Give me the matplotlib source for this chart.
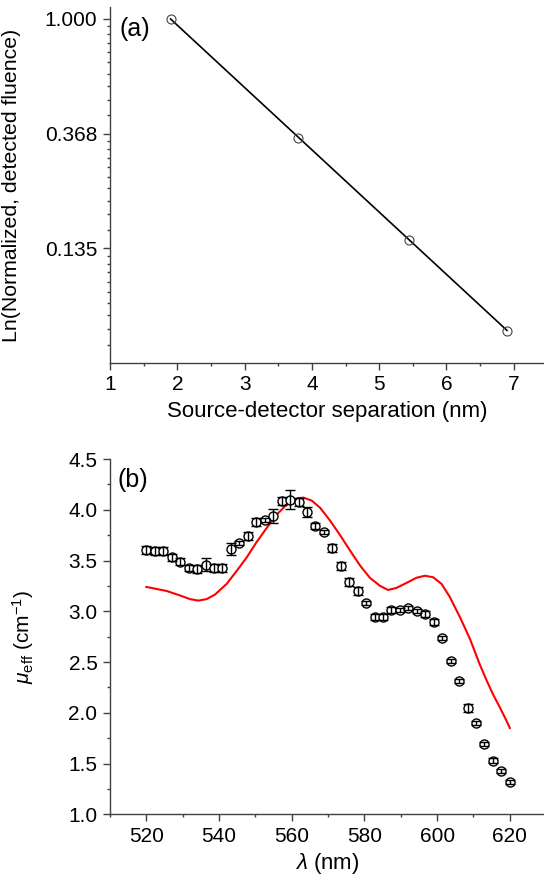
import numpy as np
import matplotlib
matplotlib.use("Agg")
from matplotlib import pyplot as plt
from matplotlib.ticker import FixedLocator, FixedFormatter, MultipleLocator, FormatStrFormatter

plt.rcParams['font.family'] = ['Liberation Sans', 'DejaVu Sans']
plt.rcParams['mathtext.fontset'] = 'custom'
plt.rcParams['mathtext.rm'] = 'Liberation Sans'
plt.rcParams['mathtext.it'] = 'Liberation Sans:italic'
plt.rcParams['mathtext.bf'] = 'Liberation Sans:bold'

# panel (a): normalized detected fluence vs source-detector separation
separation = [1.9, 3.8, 5.45, 6.9]
fluence = [1.0, 0.355, 0.146, 0.066]
fluence_ticks = [1.0, np.exp(-1), np.exp(-2)]
fluence_labels = ['1.000', '0.368', '0.135']

# panel (b): measured mu_eff with error bars, and model curve
wavelength = [520.0, 522.3, 524.7, 527.0, 529.3, 531.6, 534.0, 536.3, 538.6, 540.9,
              543.3, 545.6, 547.9, 550.2, 552.6, 554.9, 557.2, 559.5, 561.9, 564.2,
              566.5, 568.8, 571.2, 573.5, 575.8, 578.1, 580.5, 582.8, 585.1, 587.4,
              589.8, 592.1, 594.4, 596.7, 599.1, 601.4, 603.7, 606.0, 608.4, 610.7,
              613.0, 615.3, 617.7, 620.0]
mu_eff = [3.60, 3.59, 3.59, 3.53, 3.49, 3.43, 3.42, 3.46, 3.43, 3.43,
          3.61, 3.67, 3.74, 3.88, 3.90, 3.94, 4.09, 4.10, 4.08, 3.98,
          3.84, 3.78, 3.62, 3.45, 3.29, 3.20, 3.08, 2.94, 2.94, 3.01,
          3.01, 3.03, 3.00, 2.97, 2.89, 2.74, 2.51, 2.31, 2.05, 1.90,
          1.69, 1.53, 1.43, 1.32]
mu_err = [0.04, 0.04, 0.04, 0.03, 0.03, 0.03, 0.04, 0.06, 0.04, 0.04,
          0.06, 0.02, 0.04, 0.04, 0.02, 0.07, 0.04, 0.09, 0.04, 0.05,
          0.03, 0.02, 0.04, 0.04, 0.04, 0.04, 0.02, 0.03, 0.03, 0.03,
          0.02, 0.02, 0.02, 0.03, 0.03, 0.02, 0.02, 0.02, 0.04, 0.02,
          0.02, 0.02, 0.02, 0.02]
model_wl = [520.0, 525.6, 529.3, 532.0, 534.3, 536.6, 538.9, 542.1, 544.8, 547.6,
            550.3, 553.1, 555.8, 558.6, 561.3, 563.2, 565.5, 567.8, 570.5, 573.3,
            576.0, 578.8, 581.5, 584.3, 586.5, 588.8, 591.6, 594.3, 596.6, 598.9,
            601.2, 603.5, 606.3, 609.0, 611.8, 613.6, 615.4, 617.3, 619.1, 620.0]
model_mu = [3.24, 3.20, 3.155, 3.12, 3.105, 3.12, 3.165, 3.27, 3.395, 3.53,
            3.68, 3.82, 3.95, 4.05, 4.11, 4.12, 4.09, 4.02, 3.895, 3.75,
            3.60, 3.45, 3.33, 3.25, 3.21, 3.23, 3.28, 3.33, 3.35, 3.335,
            3.27, 3.14, 2.94, 2.73, 2.47, 2.32, 2.18, 2.05, 1.92, 1.85]

axis_color = '#404040'
fs_tick = 15
fs_label = 16

fig = plt.figure(figsize=(5.44, 8.81), dpi=100)
ax1 = fig.add_axes([0.2022, 0.5880, 0.7978, 0.4041])
ax2 = fig.add_axes([0.2022, 0.0757, 0.7978, 0.4033])

for ax in (ax1, ax2):
    for side in ('top', 'right'):
        ax.spines[side].set_visible(False)
    for side in ('left', 'bottom'):
        ax.spines[side].set_color(axis_color)
        ax.spines[side].set_linewidth(1.0)
    ax.tick_params(which='major', direction='out', length=5, width=1.0,
                   color=axis_color, labelsize=fs_tick, pad=4)
    ax.tick_params(which='minor', direction='out', length=2.5, width=1.0,
                   color=axis_color)

# (a)
fit = np.polyfit(separation, np.log(fluence), 1)
xs = np.array([separation[0], separation[-1]])
ax1.plot(xs, np.exp(np.polyval(fit, xs)), color='black', lw=1.2, zorder=2)
ax1.plot(separation, fluence, 'o', ms=6.5, mfc='none', mec='#444444', mew=0.8, zorder=3)
ax1.set_yscale('log', base=np.e)
ax1.set_ylim(np.exp(-3), np.exp(0.104))
ax1.set_xlim(1, 7.45)
ax1.yaxis.set_major_locator(FixedLocator(fluence_ticks))
ax1.yaxis.set_major_formatter(FixedFormatter(fluence_labels))
minor = []
for k in range(3):
    hi, lo = np.exp(-k), np.exp(-k - 1)
    minor += list(lo + (hi - lo) * np.arange(1, 10) / 10)
ax1.yaxis.set_minor_locator(FixedLocator(minor))
ax1.yaxis.set_minor_formatter(FixedFormatter([''] * len(minor)))
ax1.xaxis.set_major_locator(MultipleLocator(1))
ax1.xaxis.set_minor_locator(MultipleLocator(0.5))
ax1.set_xlabel('Source-detector separation (nm)', fontsize=fs_label, labelpad=5)
ax1.set_ylabel('Ln(Normalized, detected fluence)', fontsize=15.3)
ax1.yaxis.set_label_coords(-0.205, 0.5)
ax1.text(0.023, 0.937, '(a)', transform=ax1.transAxes, fontsize=18,
         ha='left', va='center')

# (b)
ax2.plot(model_wl, model_mu, color='#ff0000', lw=1.5, zorder=2)
ax2.plot(wavelength, mu_eff, 'o', ms=6.5, mfc='white', mec='black', mew=1.0, zorder=3)
ax2.errorbar(wavelength, mu_eff, yerr=mu_err, fmt='none', ecolor='black',
             elinewidth=1.0, capsize=3.5, capthick=1.0, zorder=4)
ax2.set_xlim(510, 629.4)
ax2.set_ylim(1.0, 4.5)
ax2.xaxis.set_major_locator(MultipleLocator(20))
ax2.xaxis.set_minor_locator(MultipleLocator(10))
ax2.yaxis.set_major_locator(MultipleLocator(0.5))
ax2.yaxis.set_minor_locator(MultipleLocator(0.25))
ax2.yaxis.set_major_formatter(FormatStrFormatter('%.1f'))
ax2.set_xlabel(r'$\lambda$ (nm)', fontsize=fs_label, labelpad=4)
ax2.set_ylabel(r'$\mu_{\rm eff}$ (cm$^{-1}$)', fontsize=15)
ax2.yaxis.set_label_coords(-0.17, 0.5)
ax2.text(0.018, 0.942, '(b)', transform=ax2.transAxes, fontsize=18,
         ha='left', va='center')

fig.savefig('out.png', dpi=100)
